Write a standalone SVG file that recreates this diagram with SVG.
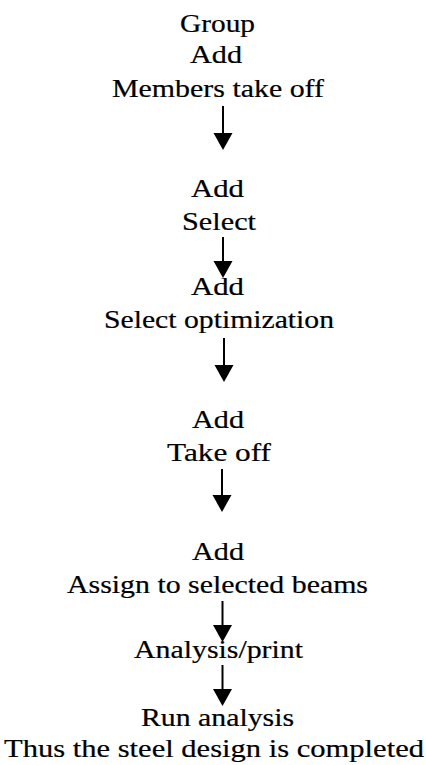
<svg xmlns="http://www.w3.org/2000/svg" width="426" height="765" viewBox="0 0 426 765" font-family="'Liberation Serif', 'Times New Roman', Times, serif">
<style>
text{font-family:'Liberation Serif','Times New Roman',Times,serif;font-size:25px;fill:#000;stroke:#000;stroke-width:0.2;}
.c line{stroke:#000;stroke-width:2;}
</style>
<defs>
<marker id="ah" markerUnits="userSpaceOnUse" markerWidth="20" markerHeight="20" refX="9" refY="9.5" orient="auto">
<path d="M0,0 L17,9.5 L0,19 z" fill="#000"/>
</marker>
</defs>
<rect width="426" height="765" fill="#fff"/>
<g id="n1">
<text x="180" y="32" textLength="75" lengthAdjust="spacingAndGlyphs">Group</text>
<text x="190" y="63" textLength="52" lengthAdjust="spacingAndGlyphs">Add</text>
<text x="112" y="97" textLength="212" lengthAdjust="spacingAndGlyphs">Members take off</text>
</g>
<g id="n2">
<text x="191" y="197" textLength="53" lengthAdjust="spacingAndGlyphs">Add</text>
<text x="182" y="230" textLength="74" lengthAdjust="spacingAndGlyphs">Select</text>
</g>
<g id="n3">
<text x="191" y="295" textLength="53" lengthAdjust="spacingAndGlyphs">Add</text>
<text x="104" y="328" textLength="230" lengthAdjust="spacingAndGlyphs">Select optimization</text>
</g>
<g id="n4">
<text x="192" y="428" textLength="52" lengthAdjust="spacingAndGlyphs">Add</text>
<text x="167" y="461" textLength="104" lengthAdjust="spacingAndGlyphs">Take off</text>
</g>
<g id="n5">
<text x="192" y="560" textLength="52" lengthAdjust="spacingAndGlyphs">Add</text>
<text x="67" y="593" textLength="301" lengthAdjust="spacingAndGlyphs">Assign to selected beams</text>
</g>
<g id="n6">
<text x="134" y="658" textLength="169" lengthAdjust="spacingAndGlyphs">Analysis/print</text>
</g>
<g id="n7">
<text x="141" y="726" textLength="153" lengthAdjust="spacingAndGlyphs">Run analysis</text>
<text x="4" y="757" textLength="420" lengthAdjust="spacingAndGlyphs">Thus the steel design is completed</text>
</g>
<g id="connectors" class="c">
<line x1="223" y1="106" x2="223" y2="142" marker-end="url(#ah)"/>
<line x1="223" y1="237" x2="223" y2="270" marker-end="url(#ah)"/>
<line x1="224" y1="338" x2="224" y2="374" marker-end="url(#ah)"/>
<line x1="222" y1="469" x2="222" y2="504" marker-end="url(#ah)"/>
<line x1="222.5" y1="601" x2="222.5" y2="634" marker-end="url(#ah)"/>
<line x1="222.5" y1="665" x2="222.5" y2="698" marker-end="url(#ah)"/>
</g>
</svg>
